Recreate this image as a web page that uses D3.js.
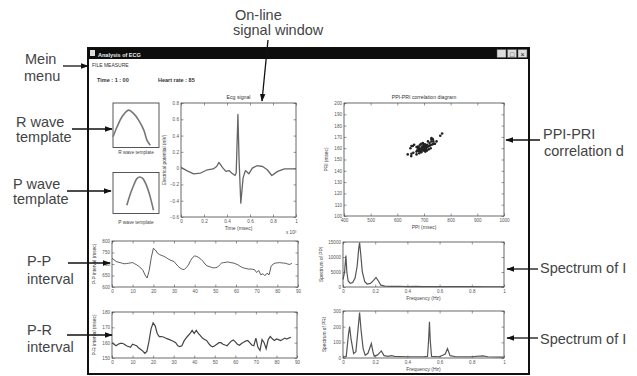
<!DOCTYPE html>
<html><head><meta charset="utf-8">
<script src="https://cdn.jsdelivr.net/npm/d3@7"></script>
<style>html,body{margin:0;padding:0;background:#fff;overflow:hidden}</style>
</head><body><svg id="c" width="637" height="376"></svg>
<script>
// ---------------- data ----------------
const ecgTime  = [0, 0.05, 0.11, 0.17, 0.23, 0.28, 0.31, 0.33, 0.36, 0.39, 0.42, 0.44, 0.47, 0.48, 0.495, 0.505, 0.52, 0.54, 0.56, 0.59, 0.62, 0.66, 0.71, 0.75, 0.79, 0.84, 0.9, 0.95, 1.0];
const ecgValue = [0.01, -0.03, -0.07, -0.06, -0.02, -0.01, 0.02, 0.07, 0.01, -0.04, -0.03, -0.06, -0.09, -0.06, 0.66, 0.1, -0.43, -0.12, -0.03, -0.07, 0.0, 0.03, 0.02, -0.02, -0.09, -0.04, -0.01, -0.01, -0.01];
const ecgYTicks = [-0.6, -0.4, -0.2, 0, 0.2, 0.4, 0.6, 0.8];
const ecgXTicks = [0, 0.2, 0.4, 0.6, 0.8, 1];

const rTplX = [0, 0.087, 0.196, 0.34, 0.45, 0.56, 0.67, 0.74, 0.81];
const rTplY = [0.24, 0.46, 0.69, 0.84, 0.76, 0.61, 0.39, 0.16, 0.05];
const pTplX = [0.30, 0.38, 0.45, 0.52, 0.58, 0.65, 0.74, 0.81, 0.88];
const pTplY = [0.20, 0.49, 0.69, 0.85, 0.89, 0.85, 0.65, 0.40, 0.08];

const ppInterval = [725,718,711,708,706,703,701,702,703,705,706,701,696,690,682,672,652,639,672,728,768,761,747,741,737,734,729,723,718,714,711,700,690,682,677,676,685,696,715,728,735,733,728,721,712,700,692,689,686,683,684,686,695,704,706,707,709,707,705,704,700,696,690,685,682,680,678,678,677,675,663,672,653,658,649,660,653,690,700,704,705,706,705,704,703,700,698,703];
const prInterval = [160,159,158,159,159.5,159.6,159,158,157.5,157,159,158.5,158,156.5,155.5,154.5,153,154.5,161,169,173,171,166,164,164,163.7,163,162.5,162,161.4,160.8,160,158,157.5,158,161,163,164.5,166,168,166,168,166,164.6,163,162,161.4,159.5,158,157.3,158,159,160,160,159,158.5,158,159.5,161,161.8,160.5,159,158.3,159.5,160.3,161,161.4,160,158.5,158,163,157,155,162,160,156,162,164,162.5,161.4,162.4,162,161.4,162,163,162.4,163,163.5];
const beatTicks = [0,10,20,30,40,50,60,70,80,90];
const ppTicks = [600,650,700,750,800];
const prTicks = [150,160,170,180];
const scatXTicks = [400,500,600,700,800,900,1000];
const scatYTicks = [100,110,120,130,140,150,160,170,180,190,200];

const specPpiFreq = [0,0.01,0.018,0.024,0.032,0.045,0.06,0.075,0.088,0.098,0.103,0.11,0.12,0.135,0.15,0.17,0.19,0.205,0.22,0.235,0.26,0.3,0.35,0.4,0.45,0.5,0.6,0.7,0.8,0.9,1.0];
const specPpiValue = [2500,5000,10500,5000,2000,1200,1500,3000,7000,13000,14800,11000,5000,1800,1000,1200,2200,3200,2000,600,300,200,250,150,200,150,120,100,100,80,80];
const specPriFreq = [0,0.02,0.034,0.041,0.05,0.066,0.08,0.095,0.103,0.112,0.125,0.138,0.155,0.176,0.186,0.194,0.215,0.238,0.255,0.28,0.3,0.32,0.4,0.5,0.525,0.532,0.537,0.542,0.55,0.6,0.635,0.649,0.665,0.7,0.8,0.868,0.9,1.0];
const specPriValue = [5,10,150,200,120,28,40,200,290,180,60,17,30,92,40,12,20,45,15,10,15,10,8,8,10,120,231,110,10,8,25,60,15,8,8,13,8,6];
const freqTicks = [0,0.2,0.4,0.6,0.8,1];
const specPpiTicks = [0,5000,10000,15000];
const specPriTicks = [0,100,200,300];

// ---------------- drawing ----------------
const svg = d3.select("#c");
const FONT = "'Liberation Sans', Arial, sans-serif";
const tiny = "#555";

svg.append("defs").append("marker").attr("id","ah").attr("viewBox","0 0 10 10")
  .attr("refX",9).attr("refY",5).attr("markerWidth",6).attr("markerHeight",6)
  .attr("orient","auto").append("path").attr("d","M0,1.5L10,5L0,8.5Z").attr("fill","#111");

// window frame
const win = svg.append("g");
win.append("rect").attr("x",88).attr("y",48).attr("width",441).attr("height",326)
  .attr("fill","#fff").attr("stroke","#111").attr("stroke-width",2);
win.append("rect").attr("x",88).attr("y",48).attr("width",441).attr("height",11).attr("fill","#0d0d0d");
win.append("rect").attr("x",90).attr("y",50).attr("width",5).attr("height",6).attr("fill","#ddd");
win.append("text").attr("x",98).attr("y",56.5).attr("fill","#eee").attr("font-size",5.5)
  .attr("font-family",FONT).attr("font-weight","bold").text("Analysis of ECG");
["_","□","×"].forEach((s,i)=>{
  const bx = 497 + i*10.5;
  win.append("rect").attr("x",bx).attr("y",49.5).attr("width",9).attr("height",8).attr("fill","#ddd").attr("stroke","#555").attr("stroke-width",0.5);
  win.append("text").attr("x",bx+4.5).attr("y",56.5).attr("text-anchor","middle").attr("font-size",7).attr("font-family",FONT).attr("fill","#111").text(s);
});
win.append("text").attr("x",92).attr("y",67).attr("font-size",5).attr("font-family",FONT).attr("fill","#333").text("FILE    MEASURE");
win.append("text").attr("x",97).attr("y",82).attr("font-size",5.5).attr("font-family",FONT).attr("font-weight","bold").attr("fill","#333").text("Time :  1  :  00");
win.append("text").attr("x",158).attr("y",82).attr("font-size",5.5).attr("font-family",FONT).attr("font-weight","bold").attr("fill","#333").text("Heart rate :    85");

function panel(o){
  const g = svg.append("g");
  const x = d3.scaleLinear().domain(o.xd).range([o.x0,o.x1]);
  const y = d3.scaleLinear().domain(o.yd).range([o.y1,o.y0]);
  const style = sel => { sel.select(".domain").remove();
    sel.selectAll("line").attr("stroke",tiny).attr("stroke-width",0.6);
    sel.selectAll("text").attr("font-size",4.6).attr("font-family",FONT).attr("fill",tiny); };
  g.append("g").attr("transform",`translate(0,${o.y1})`)
    .call(d3.axisBottom(x).tickValues(o.xt).tickSize(-2.5).tickPadding(2.5).tickFormat(o.xf||d3.format("")))
    .call(style);
  g.append("g").attr("transform",`translate(0,${o.y0})`)
    .call(d3.axisTop(x).tickValues(o.xt).tickSize(-2.5).tickFormat("")).call(style);
  g.append("g").attr("transform",`translate(${o.x0},0)`)
    .call(d3.axisLeft(y).tickValues(o.yt).tickSize(-2.5).tickPadding(2).tickFormat(o.yf||d3.format("")))
    .call(style);
  g.append("g").attr("transform",`translate(${o.x1},0)`)
    .call(d3.axisRight(y).tickValues(o.yt).tickSize(-2.5).tickFormat("")).call(style);
  g.append("rect").attr("x",o.x0).attr("y",o.y0).attr("width",o.x1-o.x0).attr("height",o.y1-o.y0)
    .attr("fill","none").attr("stroke","#444").attr("stroke-width",0.8);
  if(o.title) g.append("text").attr("x",(o.x0+o.x1)/2).attr("y",o.y0-4).attr("text-anchor","middle")
    .attr("font-size",5.2).attr("font-family",FONT).attr("fill","#333").text(o.title);
  if(o.xl) g.append("text").attr("x",(o.x0+o.x1)/2).attr("y",o.y1+12.5).attr("text-anchor","middle")
    .attr("font-size",5).attr("font-family",FONT).attr("fill","#444").text(o.xl);
  if(o.yl) g.append("text").attr("transform",`translate(${o.x0-(o.ylOff||13)},${(o.y0+o.y1)/2}) rotate(-90)`)
    .attr("text-anchor","middle").attr("font-size",4.8).attr("font-family",FONT).attr("fill","#444").text(o.yl);
  return {g,x,y};
}

function template(y0,y1,xs,ys,label,ly){
  const x = d3.scaleLinear().domain([0,1]).range([113,159]);
  const y = d3.scaleLinear().domain([0,1]).range([y1,y0]);
  svg.append("rect").attr("x",113).attr("y",y0).attr("width",46).attr("height",y1-y0)
    .attr("fill","none").attr("stroke","#444").attr("stroke-width",0.9);
  svg.append("path").datum(d3.range(xs.length))
    .attr("d",d3.line().x(i=>x(xs[i])).y(i=>y(ys[i])).curve(d3.curveCatmullRom))
    .attr("fill","none").attr("stroke","#777").attr("stroke-width",1.6);
  svg.append("text").attr("x",136).attr("y",ly).attr("text-anchor","middle").attr("font-size",4.8)
    .attr("font-family",FONT).attr("fill","#444").text(label);
}
template(103,147.5,rTplX,rTplY,"R wave template",154);
template(172.5,213.5,pTplX,pTplY,"P wave template",224);

// ECG
const ecg = panel({x0:181,x1:296,y0:103,y1:217,xd:[0,1],yd:[-0.6,0.8],xt:ecgXTicks,yt:ecgYTicks,
  title:"Ecg signal",xl:"Time (msec)",yl:"Electrical potential (mV)",ylOff:15});
ecg.g.append("path").datum(d3.range(ecgTime.length))
  .attr("d",d3.line().x(i=>ecg.x(ecgTime[i])).y(i=>ecg.y(ecgValue[i])))
  .attr("fill","none").attr("stroke","#666").attr("stroke-width",1.3).attr("stroke-linejoin","round");
ecg.g.append("text").attr("x",286).attr("y",234).attr("font-size",4.6).attr("font-family",FONT).attr("fill","#444").text("x 10³");

// Scatter
const sc = panel({x0:344,x1:504,y0:103,y1:216,xd:[400,1000],yd:[100,200],xt:scatXTicks,yt:scatYTicks,
  title:"PPI-PRI correlation diagram",xl:"PPI (msec)",yl:"PRI (msec)",ylOff:16});
sc.g.selectAll("circle.pt").data(d3.range(ppInterval.length)).join("circle")
  .attr("cx",i=>sc.x(ppInterval[i])).attr("cy",i=>sc.y(prInterval[i])).attr("r",1.3).attr("fill","#222");

// P-P interval
const pp = panel({x0:112,x1:298,y0:241,y1:287,xd:[0,90],yd:[600,800],xt:beatTicks,yt:ppTicks,
  yl:"P-P interval (msec)",ylOff:16.5});
pp.g.append("path").datum(d3.range(ppInterval.length))
  .attr("d",d3.line().x(i=>pp.x(i)).y(i=>pp.y(ppInterval[i])))
  .attr("fill","none").attr("stroke","#333").attr("stroke-width",0.8);

// P-R interval
const pr = panel({x0:112,x1:297,y0:312,y1:358,xd:[0,90],yd:[150,180],xt:beatTicks,yt:prTicks,
  yl:"P-R interval (msec)",ylOff:16.5});
pr.g.append("path").datum(d3.range(prInterval.length))
  .attr("d",d3.line().x(i=>pr.x(i)).y(i=>pr.y(prInterval[i])))
  .attr("fill","none").attr("stroke","#444").attr("stroke-width",1.2);

// Spectra
const s1 = panel({x0:343,x1:504,y0:242,y1:287,xd:[0,1],yd:[0,15000],xt:freqTicks,yt:specPpiTicks,
  xl:"Frequency (Hz)",yl:"Spectrum of PPI",ylOff:20});
s1.g.append("path").datum(d3.range(specPpiFreq.length))
  .attr("d",d3.line().x(i=>s1.x(specPpiFreq[i])).y(i=>s1.y(specPpiValue[i])))
  .attr("fill","none").attr("stroke","#555").attr("stroke-width",1.2);
const s2 = panel({x0:343,x1:504,y0:311,y1:358,xd:[0,1],yd:[0,300],xt:freqTicks,yt:specPriTicks,
  xl:"Frequency (Hz)",yl:"Spectrum of PRI",ylOff:17});
s2.g.append("path").datum(d3.range(specPriFreq.length))
  .attr("d",d3.line().x(i=>s2.x(specPriFreq[i])).y(i=>s2.y(specPriValue[i])))
  .attr("fill","none").attr("stroke","#555").attr("stroke-width",1.2);

// ---------------- annotations ----------------
const ann = svg.append("g").attr("font-family",FONT).attr("font-size",14.5).attr("fill","#444");
[["On-line",235,20],["signal window",233,35],["Mein",25,64],["menu",24,81],
 ["R wave",16,127],["template",16,142],["P wave",13,189],["template",13,204],
 ["P-P",27,266],["interval",27,284],["P-R",27,335],["interval",27,352],
 ["PPI-PRI",543,139],["correlation d",544,156],["Spectrum of I",540,273],["Spectrum of I",540,344]]
 .forEach(([t,x,y])=>ann.append("text").attr("x",x).attr("y",y).text(t));
[[268,40,262,101],[63,66,88,66],[72,129,112,129],[67,191,111,191],[68,263,110,263],[67,335,112,335],
 [540,140,506,140],[538,269,507,269],[538,338,507,338]]
 .forEach(([a,b,c,d])=>svg.append("line").attr("x1",a).attr("y1",b).attr("x2",c).attr("y2",d)
   .attr("stroke","#111").attr("stroke-width",1.3).attr("marker-end","url(#ah)"));
</script></body></html>
